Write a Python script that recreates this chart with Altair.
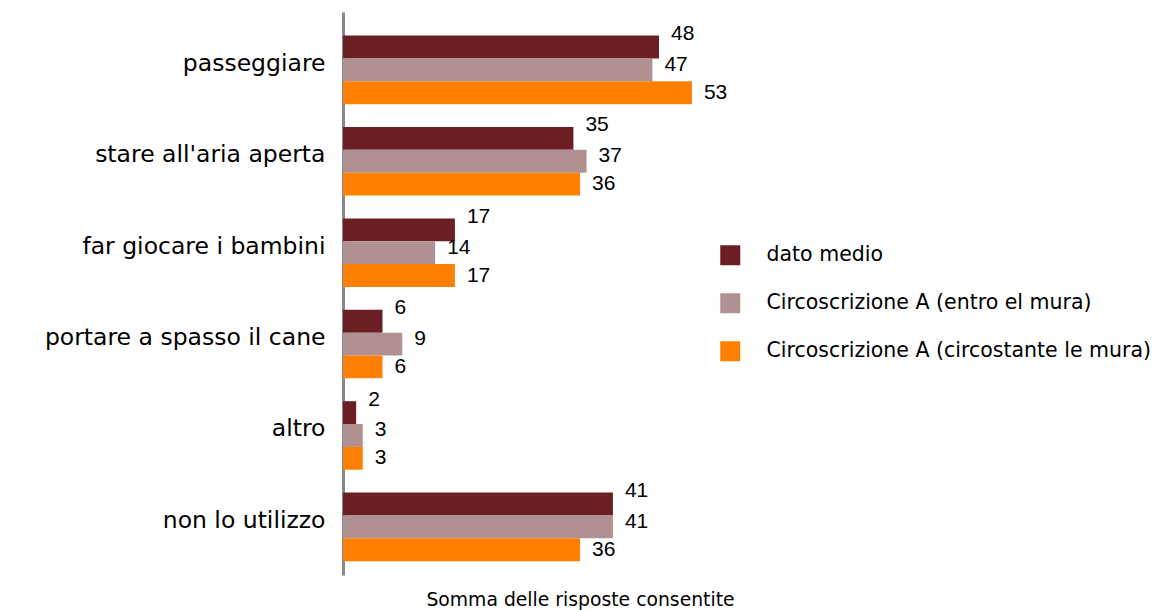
import altair as alt
import pandas as pd

categories = ["passeggiare", "stare all'aria aperta", "far giocare i bambini",
              "portare a spasso il cane", "altro", "non lo utilizzo"]
series = ["dato  medio", "Circoscrizione A (entro el mura)", "Circoscrizione A (circostante le mura)"]
dato_medio = [48, 35, 17, 6, 2, 41]
entro = [47, 37, 14, 9, 3, 41]
circostante = [53, 36, 17, 6, 3, 36]
colors = ["#6B1E24", "#B09090", "#FF8000"]
label_dy = [-13, -5, 0]

rows = []
for i, c in enumerate(categories):
    for s, vals in zip(series, [dato_medio, entro, circostante]):
        rows.append({"cat": c, "serie": s, "val": vals[i]})
df = pd.DataFrame(rows)

y = alt.Y("cat:N", sort=categories, title=None,
          scale=alt.Scale(paddingInner=0.25, paddingOuter=0.205, align=0.63),
          axis=alt.Axis(labelFont="DejaVu Sans", labelFontSize=23.5, labelColor="#000",
                        ticks=False, labelPadding=18, domainColor="#888",
                        domainWidth=3, labelLimit=400, labelOffset=-6))
x = alt.X("val:Q", scale=alt.Scale(domain=[0, 72]),
          title="Somma delle risposte consentite",
          axis=alt.Axis(labels=False, ticks=False, grid=False, domain=False,
                        titleFont="DejaVu Sans", titleFontSize=18.8, titleFontWeight="normal",
                        titleColor="#000", titlePadding=15))
yoff = alt.YOffset("serie:N", sort=series)

bars = alt.Chart(df).mark_bar().encode(
    y=y, x=x, yOffset=yoff,
    color=alt.Color("serie:N", sort=series,
                    scale=alt.Scale(domain=series, range=colors),
                    legend=alt.Legend(title=None, orient="none", legendX=377, legendY=233,
                                      symbolType="square", symbolSize=400,
                                      symbolStrokeWidth=0, labelFont="DejaVu Sans",
                                      labelFontSize=20.5, labelColor="#000",
                                      rowPadding=27, labelOffset=26, labelLimit=600)),
)

layers = [bars]
for s, d in zip(series, label_dy):
    layers.append(
        alt.Chart(df).transform_filter(alt.datum.serie == s)
        .mark_text(align="left", baseline="middle", dx=12, dy=d,
                   font="Liberation Sans", fontSize=21, color="#000")
        .encode(y=y, x=x, yOffset=yoff, text="val:Q")
    )

chart = alt.layer(*layers).properties(
    width=474, height=563,
    background="white",
    autosize=alt.AutoSizeParams(type="none"),
    padding={"left": 343, "top": 12, "right": 358, "bottom": 35},
).configure_view(stroke=None)

chart.save("out.html", embed_options={"renderer": "svg", "actions": False})
